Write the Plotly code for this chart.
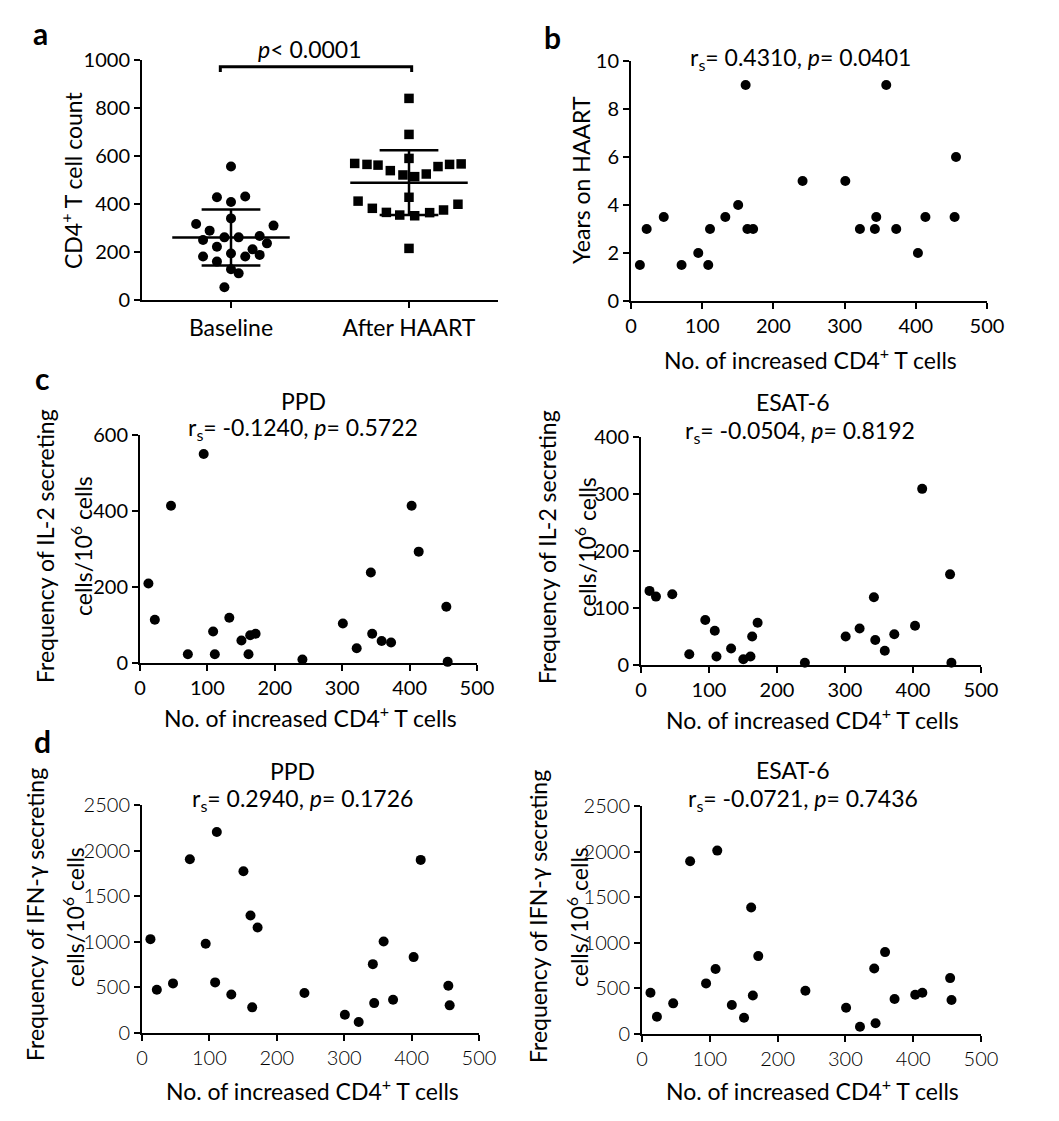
import numpy as np
import plotly.graph_objects as go

W, H = 1059, 1121
FONT = "Lato"
FS = 20      # numeric tick labels
LS = 23      # labels / titles

# ---------------- data ----------------
# Panel a: CD4+ T cell counts
baseline_counts = [556, 428, 431, 408, 340, 317, 310, 289, 250, 261, 261, 267, 222, 236,
                   211, 194, 181, 181, 188, 160, 128, 111, 53]
baseline_jitter = [0, -0.079, 0.080, 0, 0, -0.196, 0.239, -0.120, -0.157, -0.037, 0.043,
                   0.161, -0.079, 0.202, 0.121, 0, -0.157, 0.080, 0.161, -0.079, 0, 0.043, -0.037]
haart_counts = [840, 690, 590, 569, 565, 562, 556, 565, 567, 539, 525, 521, 514, 428, 412,
                399, 382, 375, 365, 354, 351, 364, 215]
haart_jitter = [0, 0, 0, -0.305, -0.236, -0.174, 0.163, 0.228, 0.293, -0.105, 0.097, -0.034,
                0.032, 0, -0.286, 0.275, -0.206, 0.194, -0.127, -0.052, 0.032, 0.116, 0]
groups = ["Baseline", "After HAART"]

# Shared x: number of increased CD4+ T cells
cd4_increase = [12.5, 22, 46, 71, 94.5, 108.5, 111, 132.5, 150.5, 161, 163.5, 171.5, 241,
                301, 321.5, 342.5, 344.5, 358.5, 372.5, 403, 413.5, 454.5, 456.5]
years_on_haart = [1.5, 3, 3.5, 1.5, 2, 1.5, 3, 3.5, 4, 9, 3, 3, 5, 5, 3, 3, 3.5, 9, 3, 2,
                  3.5, 3.5, 6]
il2_ppd = [209, 114, 414, 23, 550, 83, 23, 119, 59, 23, 73, 77, 9, 104, 39, 238, 77, 58, 54,
           414, 293, 148, 3]
il2_esat6 = [130, 120, 124, 19, 79, 60, 15, 29, 10, 15, 50, 74, 4, 50, 64, 119, 44, 25, 54,
             69, 309, 159, 4]
ifn_ppd = [1029, 474, 544, 1905, 978, 555, 2204, 423, 1774, 1288, 281, 1157, 438, 201, 120,
           755, 328, 1004, 365, 832, 1898, 518, 303]
ifn_esat6 = [453, 190, 336, 1894, 555, 712, 2011, 318, 179, 1387, 423, 854, 474, 288, 80,
             719, 117, 898, 383, 431, 453, 613, 372]

# ---------------- helpers ----------------
def px_x(a, b):
    return [a / W, b / W]

def px_y(top, bottom):
    return [1 - bottom / H, 1 - top / H]

def axis(domain, rng, dtick, anchor, light=False, **kw):
    d = dict(domain=domain, range=rng, dtick=dtick, tick0=0, anchor=anchor,
             showline=True, linecolor="black", linewidth=2, ticks="outside",
             ticklen=6, tickwidth=2, tickcolor="black", showgrid=False,
             zeroline=False, fixedrange=True, automargin=False,
             tickfont=dict(family=FONT, size=FS, color="black",
                           weight=300 if light else 400))
    d.update(kw)
    return d

fig = go.Figure()
mk = dict(color="black", size=10, symbol="circle")

# ---------------- panel a ----------------
bx = [1 + j for j in baseline_jitter]
hx = [2 + j for j in haart_jitter]
fig.add_trace(go.Scatter(x=bx, y=baseline_counts, mode="markers", marker=mk,
                         cliponaxis=False, xaxis="x", yaxis="y"))
fig.add_trace(go.Scatter(x=hx, y=haart_counts, mode="markers",
                         marker=dict(color="black", size=9.5, symbol="square"),
                         cliponaxis=False, xaxis="x", yaxis="y"))
for center, vals in ((1, baseline_counts), (2, haart_counts)):
    m = float(np.mean(vals))
    s = float(np.std(vals, ddof=1))
    lx = [center - 0.33, center + 0.33, None,
          center - 0.165, center + 0.165, None,
          center - 0.165, center + 0.165, None,
          center, center]
    ly = [m, m, None, m + s, m + s, None, m - s, m - s, None, m - s, m + s]
    fig.add_trace(go.Scatter(x=lx, y=ly, mode="lines", line=dict(color="black", width=2.5),
                             cliponaxis=False, xaxis="x", yaxis="y"))
# significance bracket
fig.add_trace(go.Scatter(x=[0.94, 0.94, 2.015, 2.015], y=[950, 972, 972, 950], mode="lines",
                         line=dict(color="black", width=3), cliponaxis=False,
                         xaxis="x", yaxis="y"))

# ---------------- scatter panels ----------------
panels = [
    ("x2", "y2", years_on_haart),
    ("x3", "y3", il2_ppd),
    ("x4", "y4", il2_esat6),
    ("x5", "y5", ifn_ppd),
    ("x6", "y6", ifn_esat6),
]
for xa, ya, vals in panels:
    fig.add_trace(go.Scatter(x=cd4_increase, y=vals, mode="markers", marker=mk,
                             cliponaxis=False, xaxis=xa, yaxis=ya))

layout = dict(
    width=W, height=H, margin=dict(l=0, r=0, t=0, b=0, autoexpand=False),
    paper_bgcolor="white", plot_bgcolor="white", showlegend=False,
    font=dict(family=FONT, size=FS, color="black"),
    xaxis=axis(px_x(142, 498), [0.5, 2.5], None, "y", tickvals=[1, 2], ticktext=groups,
               tickfont=dict(family=FONT, size=LS, color="black")),
    yaxis=axis(px_y(60, 300), [0, 1000], 200, "x"),
    xaxis2=axis(px_x(631, 987), [0, 500], 100, "y2"),
    yaxis2=axis(px_y(61, 301), [0, 10], 2, "x2"),
    xaxis3=axis(px_x(140, 477), [0, 500], 100, "y3"),
    yaxis3=axis(px_y(435, 663), [0, 600], 200, "x3"),
    xaxis4=axis(px_x(641, 981), [0, 500], 100, "y4"),
    yaxis4=axis(px_y(437, 665), [0, 400], 100, "x4"),
    xaxis5=axis(px_x(142, 479), [0, 500], 100, "y5", light=True),
    yaxis5=axis(px_y(805, 1033), [0, 2500], 500, "x5", light=True),
    xaxis6=axis(px_x(642, 981), [0, 500], 100, "y6", light=True),
    yaxis6=axis(px_y(806, 1034), [0, 2500], 500, "x6", light=True),
)
fig.update_layout(**layout)

def note(text, x, y, size=LS, angle=0, bold=False):
    fig.add_annotation(text=("<b>%s</b>" % text) if bold else text,
                       x=x / W, y=1 - y / H, xref="paper", yref="paper",
                       showarrow=False, textangle=angle, xanchor="center", yanchor="middle",
                       font=dict(family=FONT, size=size, color="black"))

# panel letters
note("a", 40, 33, size=30, bold=True)
note("b", 552, 37, size=30, bold=True)
note("c", 42, 378, size=30, bold=True)
note("d", 42, 741, size=30, bold=True)

# panel a texts
note("<i>p</i>< 0.0001", 310, 49)
note("CD4<sup>+</sup> T cell count", 72, 181, angle=-90)

# panel b
note("r<sub>s</sub>= 0.4310, <i>p</i>= 0.0401", 800, 59)
note("Years on HAART", 581, 180, angle=-90)
xt = "No. of increased CD4<sup>+</sup> T cells"
note(xt, 810, 358)

# panel c
note("PPD", 303, 401)
note("r<sub>s</sub>= -0.1240, <i>p</i>= 0.5722", 303, 428)
note("Frequency of IL-2 secreting", 45, 546, angle=-90)
note("cells/10<sup>6</sup> cells", 82, 546, angle=-90)
note(xt, 310, 716)
note("ESAT-6", 792, 402)
note("r<sub>s</sub>= -0.0504, <i>p</i>= 0.8192", 800, 431)
note("Frequency of IL-2 secreting", 547, 547, angle=-90)
note("cells/10<sup>6</sup> cells", 585, 547, angle=-90)
note(xt, 812, 718)

# panel d
note("PPD", 292, 771)
note("r<sub>s</sub>= 0.2940, <i>p</i>= 0.1726", 302, 799)
note("Frequency of IFN-γ secreting", 35, 915, angle=-90)
note("cells/10<sup>6</sup> cells", 73, 917, angle=-90)
note(xt, 312, 1089)
note("ESAT-6", 792, 770)
note("r<sub>s</sub>= -0.0721, <i>p</i>= 0.7436", 803, 799)
note("Frequency of IFN-γ secreting", 538, 917, angle=-90)
note("cells/10<sup>6</sup> cells", 577, 917, angle=-90)
note(xt, 812, 1089)

fig.write_html("out.html", config={"displayModeBar": False, "staticPlot": True},
               post_script="document.body.style.margin='0px';"
                           "document.body.style.overflow='hidden';")
